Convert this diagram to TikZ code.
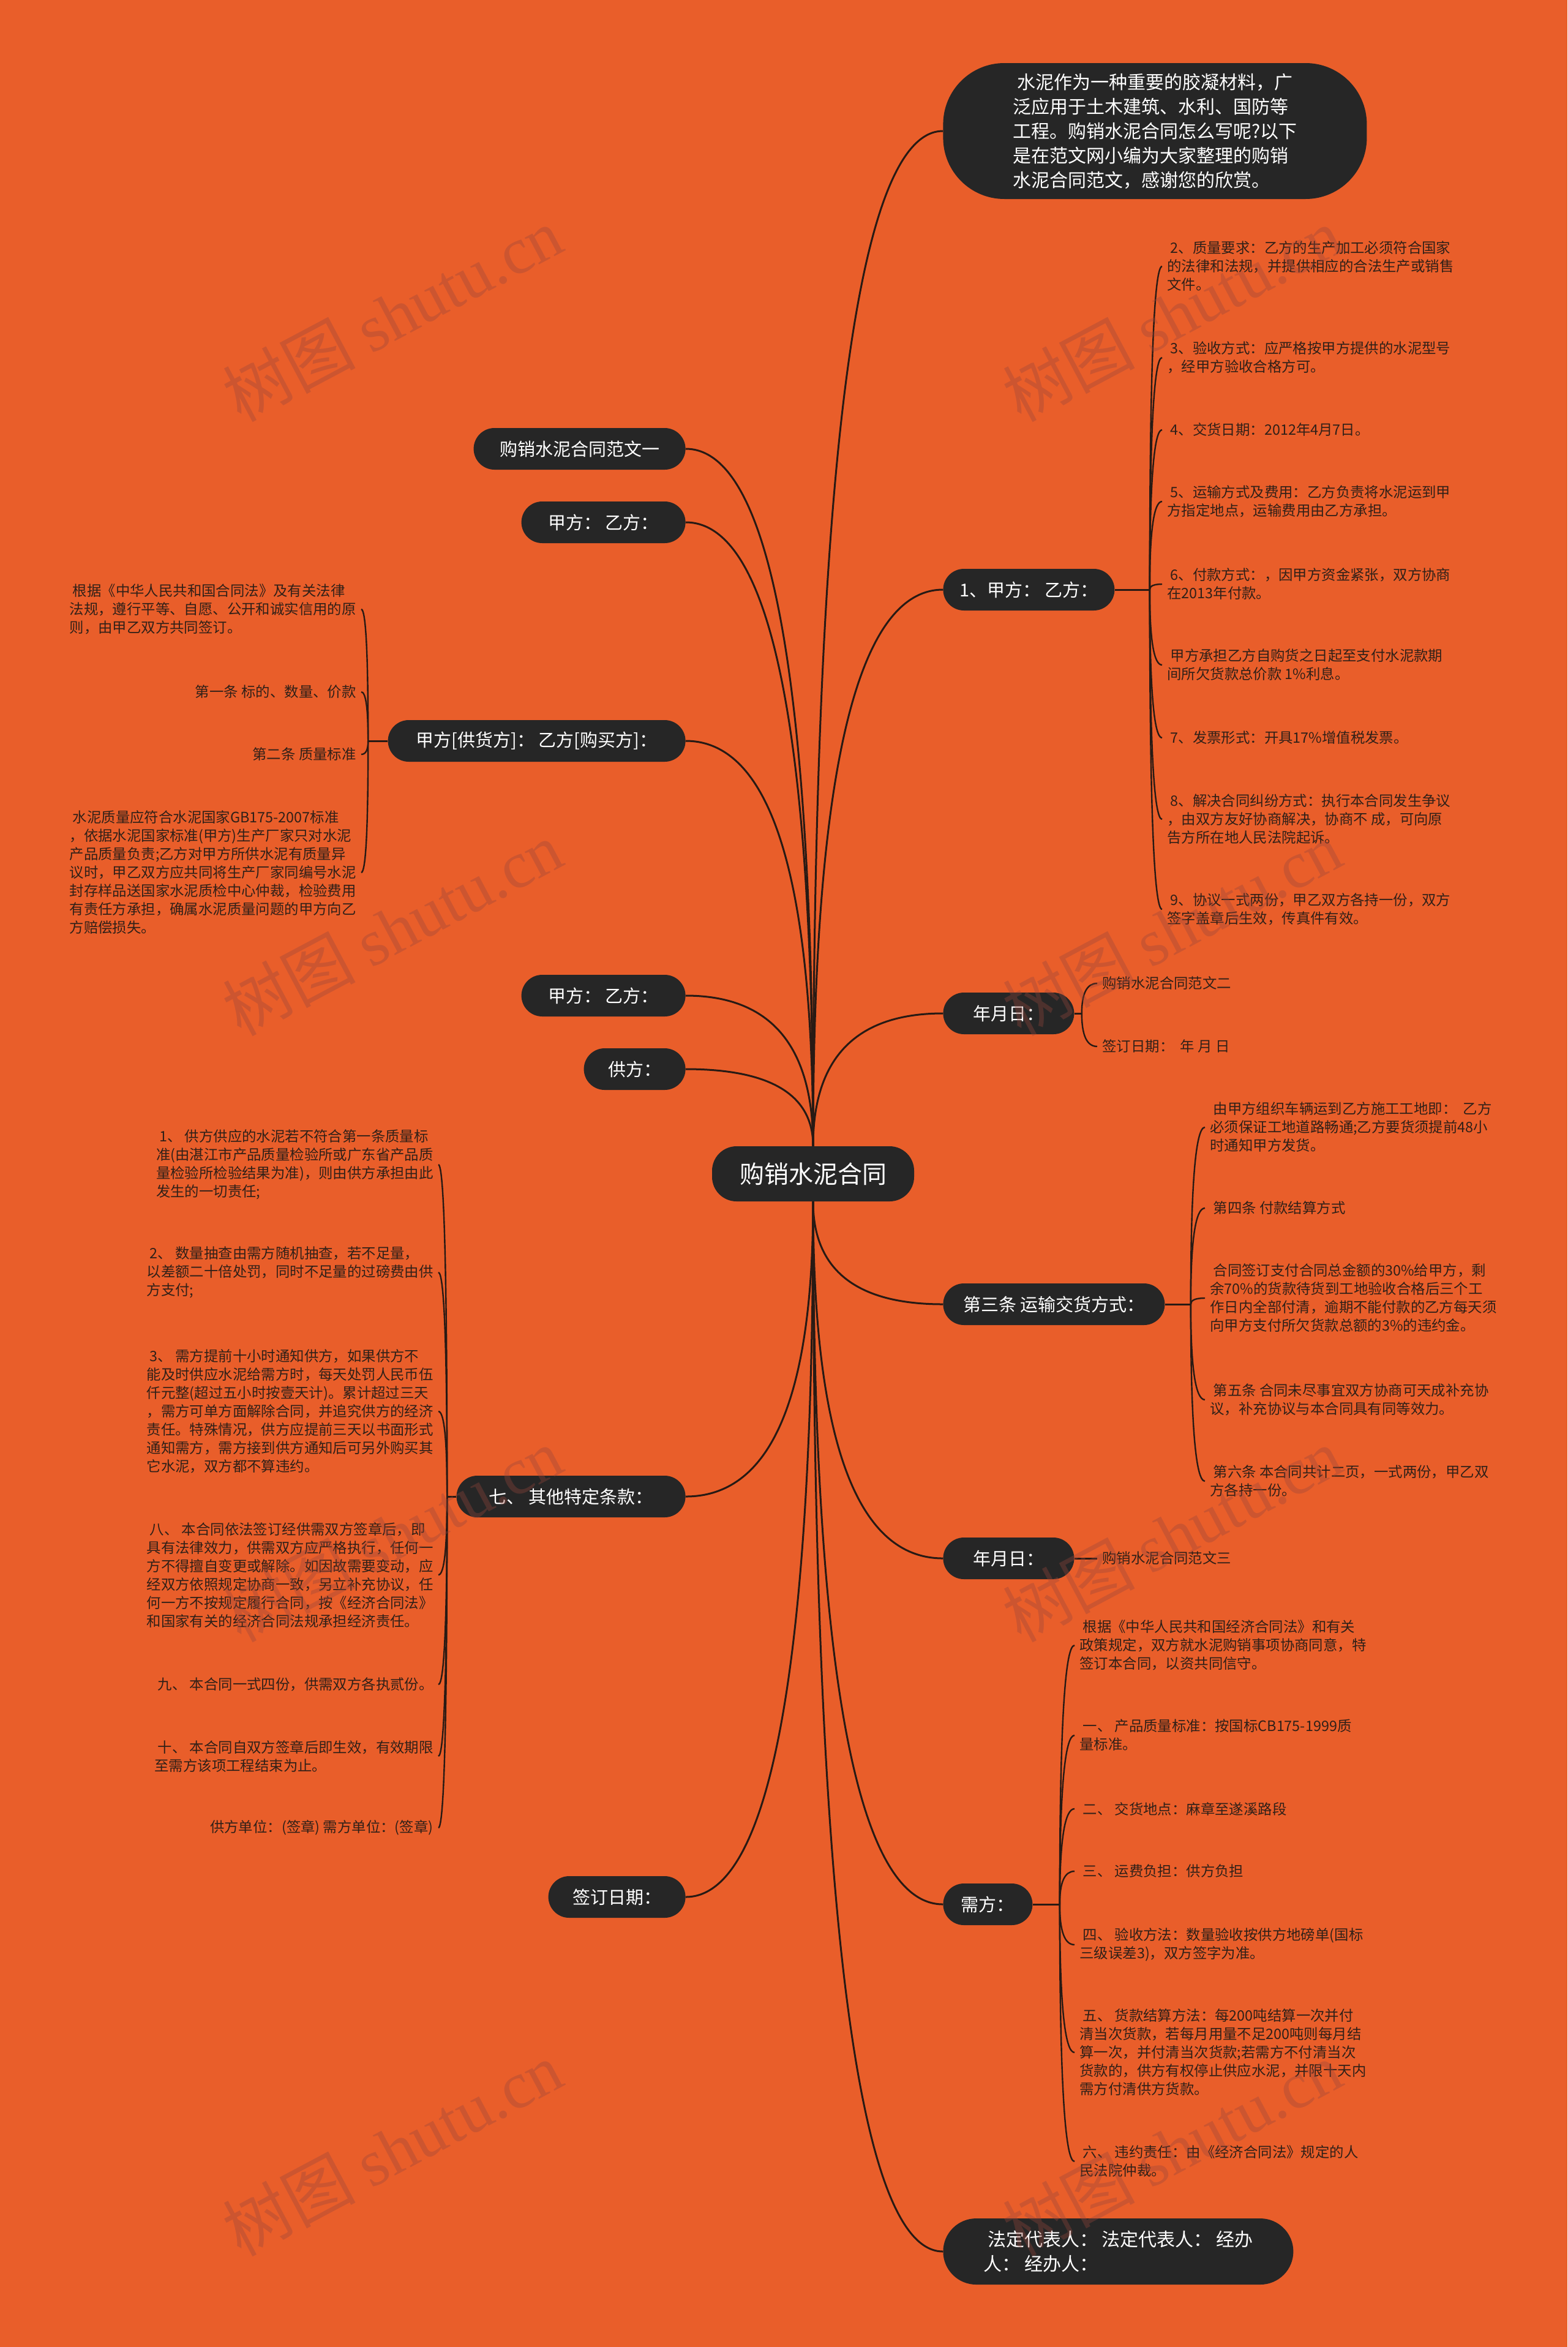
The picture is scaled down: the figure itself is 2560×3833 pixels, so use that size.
\documentclass[tikz,border=0pt]{standalone}
\usepackage{fontspec}
\setmainfont{Noto Sans CJK SC}
\newfontfamily\stampfont{Liberation Serif}
\usepackage{xcolor}
\usepackage{tikz}
\usetikzlibrary{calc}
\definecolor{OrangeBg}{RGB}{233,94,42}
\definecolor{NodeDark}{RGB}{38,38,38}
\definecolor{LeafInk}{RGB}{48,32,24}
\definecolor{LinkInk}{RGB}{40,26,20}
\definecolor{StampInk}{RGB}{150,70,60}

\begin{document}
\begin{tikzpicture}[x=0.5pt, y=-0.5pt,
	link/.style={draw=LinkInk, line width=1.5pt},
	twig/.style={draw=LinkInk, line width=1.2pt},
	rootbox/.style={fill=NodeDark, text=white, rounded corners=20pt, minimum width=165pt, minimum height=45pt, font=\fontsize{20}{24}\selectfont},
	topic/.style={fill=NodeDark, text=white, rounded corners=17pt, minimum height=34pt, font=\fontsize{14.5}{18}\selectfont},
	bubble/.style={fill=NodeDark, text=white, align=left, font=\fontsize{15}{20}\selectfont},
	leaf/.style={text=LeafInk, align=left, inner xsep=4pt, inner ysep=2pt, font=\fontsize{11.7}{15}\selectfont},
	stamp/.style={text=StampInk, opacity=0.35, rotate=28, font=\fontsize{54}{54}\selectfont}
]
	\fill[OrangeBg] (0,0) rectangle (2560,3833);
	\useasboundingbox (0,0) rectangle (2560,3833);

	% centre and first level
	\node[rootbox] (C) at (1328,1917) {购销水泥合同};

	\node[bubble, anchor=west, minimum width=346pt, minimum height=111pt, rounded corners=50pt] (I) at (1540,214)
		{~水泥作为一种重要的胶凝材料，广\\泛应用于土木建筑、水利、国防等\\工程。购销水泥合同怎么写呢?以下\\是在范文网小编为大家整理的购销\\水泥合同范文，感谢您的欣赏。};
	\node[topic, anchor=west, minimum width=140pt] (R1) at (1540,963) {1、甲方：\ 乙方：};
	\node[topic, anchor=west, minimum width=107pt] (R2) at (1540,1655) {年月日：};
	\node[topic, anchor=west, minimum width=181pt] (R3) at (1540,2130) {第三条 运输交货方式：};
	\node[topic, anchor=west, minimum width=107pt] (R4) at (1540,2545) {年月日：};
	\node[topic, anchor=west, minimum width=73pt] (R5) at (1540,3110) {需方：};
	\node[bubble, anchor=west, minimum width=286pt, minimum height=54pt, rounded corners=27pt] (R6) at (1540,3677)
		{~法定代表人：\ 法定代表人：\ 经办\\人：\ 经办人：};

	\node[topic, anchor=east, minimum width=173pt] (L1) at (1120,733) {购销水泥合同范文一};
	\node[topic, anchor=east, minimum width=134pt] (L2) at (1120,853) {甲方：\ 乙方：};
	\node[topic, anchor=east, minimum width=243pt] (L3) at (1120,1210) {甲方[供货方]：\ 乙方[购买方]：};
	\node[topic, anchor=east, minimum width=134pt] (L4) at (1120,1626) {甲方：\ 乙方：};
	\node[topic, anchor=east, minimum width=83pt] (L5) at (1120,1746) {供方：};
	\node[topic, anchor=east, minimum width=187pt] (L6) at (1120,2444) {七、\ 其他特定条款：};
	\node[topic, anchor=east, minimum width=112pt] (L7) at (1120,3098) {签订日期：};

	\foreach \tp in {I,R1,R2}
		\draw[link] (C.north) .. controls ($(C.north)!2/3!(C.north |- \tp.west)$) and ($(\tp.west)!2/3!(C.north |- \tp.west)$) .. (\tp.west);
	\foreach \tp in {R3,R4,R5,R6}
		\draw[link] (C.south) .. controls ($(C.south)!2/3!(C.south |- \tp.west)$) and ($(\tp.west)!2/3!(C.south |- \tp.west)$) .. (\tp.west);
	\foreach \tp in {L1,L2,L3,L4,L5}
		\draw[link] (C.north) .. controls ($(C.north)!2/3!(C.north |- \tp.east)$) and ($(\tp.east)!2/3!(C.north |- \tp.east)$) .. (\tp.east);
	\foreach \tp in {L6,L7}
		\draw[link] (C.south) .. controls ($(C.south)!2/3!(C.south |- \tp.east)$) and ($(\tp.east)!2/3!(C.south |- \tp.east)$) .. (\tp.east);

	% 1、甲方 乙方
	\node[leaf, anchor=west] (R1a) at (1898,435) {~2、质量要求：乙方的生产加工必须符合国家\\的法律和法规，并提供相应的合法生产或销售\\文件。};
	\node[leaf, anchor=west] (R1b) at (1898,584) {~3、验收方式：应严格按甲方提供的水泥型号\\，经甲方验收合格方可。};
	\node[leaf, anchor=west] (R1c) at (1898,702) {~4、交货日期：2012年4月7日。};
	\node[leaf, anchor=west] (R1d) at (1898,819) {~5、运输方式及费用：乙方负责将水泥运到甲\\方指定地点，运输费用由乙方承担。};
	\node[leaf, anchor=west] (R1e) at (1898,954) {~6、付款方式：，因甲方资金紧张，双方协商\\在2013年付款。};
	\node[leaf, anchor=west] (R1f) at (1898,1086) {~甲方承担乙方自购货之日起至支付水泥款期\\间所欠货款总价款 1\%利息。};
	\node[leaf, anchor=west] (R1g) at (1898,1205) {~7、发票形式：开具17\%增值税发票。};
	\node[leaf, anchor=west] (R1h) at (1898,1338) {~8、解决合同纠纷方式：执行本合同发生争议\\，由双方友好协商解决，协商不 成，可向原\\告方所在地人民法院起诉。};
	\node[leaf, anchor=west] (R1i) at (1898,1485) {~9、协议一式两份，甲乙双方各持一份，双方\\签字盖章后生效，传真件有效。};
	\draw[link] (R1.east) -- ++(57,0) coordinate (jR1);
	\foreach \k in {a,b,c,d,e,f,g,h,i}
		\draw[twig] (jR1) .. controls ($(jR1)!2/3!(jR1 |- R1\k.west)$) and ($(R1\k.west)!2/3!(jR1 |- R1\k.west)$) .. (R1\k.west);

	% 年月日
	\node[leaf, anchor=west] (R2a) at (1792,1606) {购销水泥合同范文二};
	\node[leaf, anchor=west] (R2b) at (1792,1709) {签订日期：\ \ 年 月 日};
	\draw[link] (R2.east) -- ++(12,0) coordinate (jR2);
	\foreach \k in {a,b}
		\draw[twig] (jR2) .. controls ($(jR2)!2/3!(jR2 |- R2\k.west)$) and ($(R2\k.west)!2/3!(jR2 |- R2\k.west)$) .. (R2\k.west);

	% 第三条
	\node[leaf, anchor=west] (R3a) at (1968,1841) {~由甲方组织车辆运到乙方施工工地即：\ \ 乙方\\必须保证工地道路畅通;乙方要货须提前48小\\时通知甲方发货。};
	\node[leaf, anchor=west] (R3b) at (1968,1973) {~第四条 付款结算方式};
	\node[leaf, anchor=west] (R3c) at (1968,2120) {~合同签订支付合同总金额的30\%给甲方，剩\\余70\%的货款待货到工地验收合格后三个工\\作日内全部付清，逾期不能付款的乙方每天须\\向甲方支付所欠货款总额的3\%的违约金。};
	\node[leaf, anchor=west] (R3d) at (1968,2286) {~第五条 合同未尽事宜双方协商可天成补充协\\议，补充协议与本合同具有同等效力。};
	\node[leaf, anchor=west] (R3e) at (1968,2419) {~第六条 本合同共计二页，一式两份，甲乙双\\方各持一份。};
	\draw[link] (R3.east) -- ++(42,0) coordinate (jR3);
	\foreach \k in {a,b,c,d,e}
		\draw[twig] (jR3) .. controls ($(jR3)!2/3!(jR3 |- R3\k.west)$) and ($(R3\k.west)!2/3!(jR3 |- R3\k.west)$) .. (R3\k.west);

	% 年月日 (范文三)
	\node[leaf, anchor=west] (R4a) at (1792,2545) {购销水泥合同范文三};
	\draw[link] (R4.east) -- (R4a.west);

	% 需方
	\node[leaf, anchor=west] (R5a) at (1755,2687) {~根据《中华人民共和国经济合同法》和有关\\政策规定，双方就水泥购销事项协商同意，特\\签订本合同，以资共同信守。};
	\node[leaf, anchor=west] (R5b) at (1755,2834) {~一、\ 产品质量标准：按国标CB175-1999质\\量标准。};
	\node[leaf, anchor=west] (R5c) at (1755,2954) {~二、\ 交货地点：麻章至遂溪路段};
	\node[leaf, anchor=west] (R5d) at (1755,3056) {~三、\ 运费负担：供方负担};
	\node[leaf, anchor=west] (R5e) at (1755,3176) {~四、\ 验收方法：数量验收按供方地磅单(国标\\三级误差3)，双方签字为准。};
	\node[leaf, anchor=west] (R5f) at (1755,3352) {~五、\ 货款结算方法：每200吨结算一次并付\\清当次货款，若每月用量不足200吨则每月结\\算一次，并付清当次货款;若需方不付清当次\\货款的，供方有权停止供应水泥，并限十天内\\需方付清供方货款。};
	\node[leaf, anchor=west] (R5g) at (1755,3530) {~六、\ 违约责任：由《经济合同法》规定的人\\民法院仲裁。};
	\draw[link] (R5.east) -- ++(44,0) coordinate (jR5);
	\foreach \k in {a,b,c,d,e,f,g}
		\draw[twig] (jR5) .. controls ($(jR5)!2/3!(jR5 |- R5\k.west)$) and ($(R5\k.west)!2/3!(jR5 |- R5\k.west)$) .. (R5\k.west);

	% 甲方[供货方] 乙方[购买方]
	\node[leaf, anchor=east] (L3a) at (590,995) {~根据《中华人民共和国合同法》及有关法律\\法规，遵行平等、自愿、公开和诚实信用的原\\则，由甲乙双方共同签订。};
	\node[leaf, anchor=east] (L3b) at (590,1130) {第一条 标的、数量、价款};
	\node[leaf, anchor=east] (L3c) at (590,1232) {第二条 质量标准};
	\node[leaf, anchor=east] (L3d) at (590,1425) {~水泥质量应符合水泥国家GB175-2007标准\\，依据水泥国家标准(甲方)生产厂家只对水泥\\产品质量负责;乙方对甲方所供水泥有质量异\\议时，甲乙双方应共同将生产厂家同编号水泥\\封存样品送国家水泥质检中心仲裁，检验费用\\有责任方承担，确属水泥质量问题的甲方向乙\\方赔偿损失。};
	\draw[link] (L3.west) -- ++(-32,0) coordinate (jL3);
	\foreach \k in {a,b,c,d}
		\draw[twig] (jL3) .. controls ($(jL3)!2/3!(jL3 |- L3\k.east)$) and ($(L3\k.east)!2/3!(jL3 |- L3\k.east)$) .. (L3\k.east);

	% 七、其他特定条款
	\node[leaf, anchor=east] (L6a) at (716,1902) {~1、\ 供方供应的水泥若不符合第一条质量标\\准(由湛江市产品质量检验所或广东省产品质\\量检验所检验结果为准)，则由供方承担由此\\发生的一切责任;};
	\node[leaf, anchor=east] (L6b) at (716,2078) {~2、\ 数量抽查由需方随机抽查，若不足量，\\以差额二十倍处罚，同时不足量的过磅费由供\\方支付;};
	\node[leaf, anchor=east] (L6c) at (716,2305) {~3、\ 需方提前十小时通知供方，如果供方不\\能及时供应水泥给需方时，每天处罚人民币伍\\仟元整(超过五小时按壹天计)。累计超过三天\\，需方可单方面解除合同，并追究供方的经济\\责任。特殊情况，供方应提前三天以书面形式\\通知需方，需方接到供方通知后可另外购买其\\它水泥，双方都不算违约。};
	\node[leaf, anchor=east] (L6d) at (716,2572) {~八、\ 本合同依法签订经供需双方签章后，即\\具有法律效力，供需双方应严格执行，任何一\\方不得擅自变更或解除。如因故需要变动，应\\经双方依照规定协商一致，另立补充协议，任\\何一方不按规定履行合同，按《经济合同法》\\和国家有关的经济合同法规承担经济责任。};
	\node[leaf, anchor=east] (L6e) at (716,2751) {~\ 九、\ 本合同一式四份，供需双方各执贰份。};
	\node[leaf, anchor=east] (L6f) at (716,2868) {~十、\ 本合同自双方签章后即生效，有效期限\\至需方该项工程结束为止。};
	\node[leaf, anchor=east] (L6g) at (716,2985) {供方单位：(签章) 需方单位：(签章)};
	\draw[link] (L6.west) -- ++(-15,0) coordinate (jL6);
	\foreach \k in {a,b,c,d,e,f,g}
		\draw[twig] (jL6) .. controls ($(jL6)!2/3!(jL6 |- L6\k.east)$) and ($(L6\k.east)!2/3!(jL6 |- L6\k.east)$) .. (L6\k.east);

	% watermark
	\foreach \wx in {641,1914}
		\foreach \wy in {513,1516,2506,3509}
			\node[stamp] (wm-\wx-\wy) at (\wx,\wy) {树图 {\stampfont shutu.cn}};
\end{tikzpicture}
\end{document}
